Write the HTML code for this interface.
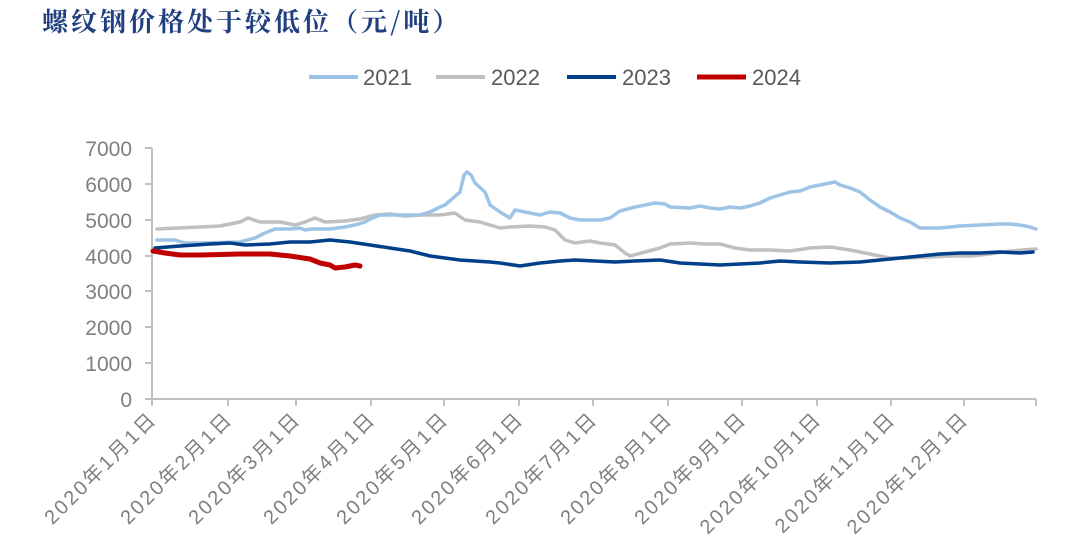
<!DOCTYPE html>
<html><head><meta charset="utf-8"><style>
body{margin:0;width:1074px;height:546px;background:#fff;overflow:hidden}
</style></head><body>
<svg width="1074" height="546" viewBox="0 0 1074 546" xmlns="http://www.w3.org/2000/svg">
<text x="42" y="31" font-family="'Noto Serif CJK SC',serif" font-weight="bold" font-size="26" letter-spacing="3" fill="#1F3F7F">螺纹钢价格处于较低位（元/吨）</text>
<g font-family="'Liberation Sans',sans-serif" font-size="22" fill="#595959">
<line x1="309" y1="77" x2="358" y2="77" stroke="#9DC3E6" stroke-width="4"/><text x="363" y="85">2021</text>
<line x1="436" y1="77" x2="485" y2="77" stroke="#BFBFBF" stroke-width="4"/><text x="491" y="85">2022</text>
<line x1="567" y1="77" x2="616" y2="77" stroke="#003F8A" stroke-width="4"/><text x="622" y="85">2023</text>
<line x1="697" y1="77" x2="746" y2="77" stroke="#C00000" stroke-width="5"/><text x="752" y="85">2024</text>
</g>
<g stroke="#BFBFBF" stroke-width="2" fill="none">
<line x1="152" y1="148" x2="152" y2="399"/>
<line x1="152" y1="399" x2="1036" y2="399"/>
<path d="M145 148H152M145 184H152M145 220H152M145 256H152M145 291H152M145 327H152M145 363H152M145 399H152"/>
<path d="M152 399V406M228 399V406M296 399V406M371 399V406M444 399V406M519 399V406M593 399V406M668 399V406M742 399V406M817 399V406M891 399V406M964 399V406M1036 399V406"/>
</g>
<g font-family="'Liberation Sans',sans-serif" font-size="21" fill="#7F7F7F" text-anchor="end">
<text x="132" y="156">7000</text><text x="132" y="192">6000</text><text x="132" y="228">5000</text><text x="132" y="264">4000</text><text x="132" y="299">3000</text><text x="132" y="335">2000</text><text x="132" y="371">1000</text><text x="132" y="407">0</text>
</g>
<g font-family="'Liberation Sans','Noto Sans CJK SC',sans-serif" font-size="20" letter-spacing="2.5" fill="#7F7F7F" text-anchor="end">
<text transform="translate(158,420) rotate(-45)">2020年1月1日</text>
<text transform="translate(234,420) rotate(-45)">2020年2月1日</text>
<text transform="translate(302,420) rotate(-45)">2020年3月1日</text>
<text transform="translate(377,420) rotate(-45)">2020年4月1日</text>
<text transform="translate(450,420) rotate(-45)">2020年5月1日</text>
<text transform="translate(525,420) rotate(-45)">2020年6月1日</text>
<text transform="translate(599,420) rotate(-45)">2020年7月1日</text>
<text transform="translate(674,420) rotate(-45)">2020年8月1日</text>
<text transform="translate(748,420) rotate(-45)">2020年9月1日</text>
<text transform="translate(823,420) rotate(-45)">2020年10月1日</text>
<text transform="translate(897,420) rotate(-45)">2020年11月1日</text>
<text transform="translate(970,420) rotate(-45)">2020年12月1日</text>
</g>
<g fill="none" stroke-linejoin="round" stroke-linecap="round">
<polyline stroke="#BFBFBF" stroke-width="3.5" points="157,229 200,227 220,226 240,222 248,218 260,222 280,222 295,225 305,222 315,218 325,222 345,221 360,219 375,215 390,214 405,216 420,215 440,215 455,213 465,220 480,222 490,225 500,228 510,227 530,226 545,227 555,230 565,240 575,243 590,241 600,243 615,245 625,253 630,256 645,252 660,248 670,244 690,243 705,244 720,244 735,248 750,250 770,250 790,251 810,248 830,247 850,250 870,254 890,258 910,258 930,257 950,256 970,256 990,254 1010,251 1036,249"/>
<polyline stroke="#9DC3E6" stroke-width="3.5" points="157,240 175,240 185,243 200,243 240,242 255,238 265,233 275,229 290,229 300,228 305,230 312,229 330,229 345,227 355,225 365,222 370,219 380,215 390,215 400,215 420,215 430,212 440,207 445,205 460,192 464,175 467,172 471,175 475,183 485,192 490,205 500,212 510,218 515,210 530,213 540,215 550,212 560,213 570,218 580,220 600,220 610,218 620,211 635,207 655,203 665,204 670,207 690,208 700,206 710,208 720,209 730,207 740,208 750,206 760,203 770,198 780,195 790,192 800,191 810,187 820,185 835,182 840,185 850,188 860,192 870,200 880,207 890,212 900,218 910,222 920,228 940,228 960,226 980,225 1000,224 1010,224 1020,225 1030,227 1036,229"/>
<polyline stroke="#003F8A" stroke-width="3.5" points="155,248 180,246 210,244 230,243 245,245 270,244 290,242 310,242 330,240 350,242 370,245 390,248 410,251 430,256 445,258 460,260 475,261 490,262 500,263 520,266 540,263 560,261 575,260 595,261 615,262 635,261 660,260 680,263 700,264 720,265 740,264 760,263 780,261 800,262 830,263 860,262 880,260 900,258 920,256 940,254 960,253 980,253 1000,252 1020,253 1033,252"/>
<polyline stroke="#C00000" stroke-width="5" points="153,251 165,253 180,255 200,255 240,254 270,254 290,256 310,259 320,263 330,265 335,268 345,267 355,265 360,266"/>
</g>
</svg>
</body></html>
